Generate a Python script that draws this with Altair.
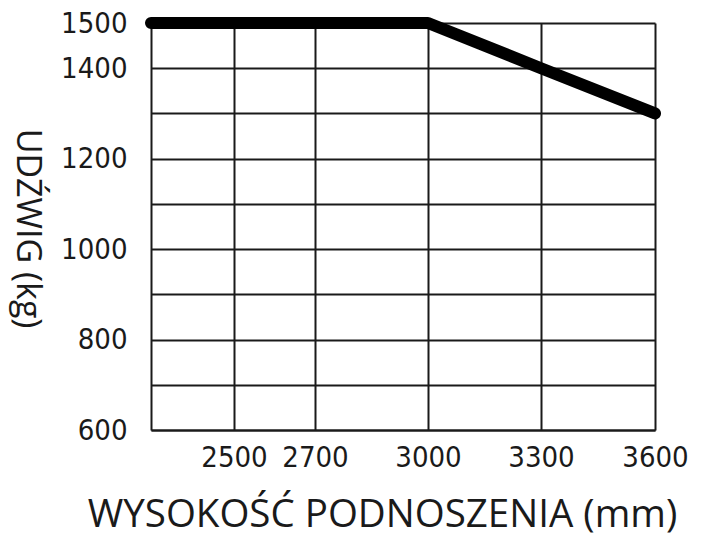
import altair as alt
import pandas as pd

# x axis: lift height (mm); the left edge of the grid is an unlabeled start value
x_start = 2300
x_ticks = [2500, 2700, 3000, 3300, 3600]
# y axis: capacity (kg)
y_labels = [600, 800, 1000, 1200, 1400, 1500]
y_grid = [600, 700, 800, 900, 1000, 1100, 1200, 1300, 1400, 1500]

# capacity curve
lift_height = [2300, 3000, 3300, 3600]
capacity = [1500, 1500, 1400, 1300]

df = pd.DataFrame({"h": lift_height, "c": capacity})

x_domain = [x_start] + x_ticks
x_range = [0, 83, 164, 277, 390, 504]

label_expr = "indexof(" + str(y_labels) + ", datum.value) >= 0 ? datum.label : ''"

tick_font = "DejaVu Sans Condensed, DejaVu Sans"

chart = alt.Chart(df).mark_line(
    color="black", strokeWidth=12, strokeCap="round", strokeJoin="round"
).encode(
    x=alt.X(
        "h:Q",
        scale=alt.Scale(domain=x_domain, range=x_range, nice=False, zero=False),
        axis=alt.Axis(
            values=x_ticks,
            format="d",
            grid=True,
            ticks=False,
            tickSize=0,
            labelFlush=False,
            labelPadding=13,
            labelFont=tick_font,
            labelFontSize=29,
            labelColor="#1a1a1a",
            title="WYSOKOŚĆ PODNOSZENIA (mm)",
            titleFont="Open Sans",
            titleFontSize=38.5,
            titleFontWeight="normal",
            titleColor="#1a1a1a",
            titleX=231,
            titleY=96,
            titleAlign="center",
            titleBaseline="alphabetic",
        ),
    ),
    y=alt.Y(
        "c:Q",
        scale=alt.Scale(domain=[600, 1500], nice=False, zero=False),
        axis=alt.Axis(
            values=y_grid,
            format="d",
            labelExpr=label_expr,
            grid=True,
            ticks=False,
            tickSize=0,
            labelFlush=False,
            labelPadding=24,
            labelFont=tick_font,
            labelFontSize=29,
            labelColor="#1a1a1a",
            labelAlign="right",
            labelBaseline="middle",
            title="UDŹWIG (kg)",
            titleFont="Open Sans",
            titleFontSize=34,
            titleFontWeight="normal",
            titleColor="#1a1a1a",
            titleAngle=90,
            titleX=-135,
            titleY=205,
            titleAlign="center",
            titleBaseline="alphabetic",
        ),
    ),
).properties(
    width=504,
    height=407,
    autosize=alt.AutoSizeParams(type="none"),
    padding={"left": 143, "top": 15, "right": 57, "bottom": 106},
).configure_axis(
    gridColor="#1a1a1a",
    gridWidth=2,
    gridOpacity=1,
    domainColor="#1a1a1a",
    domainWidth=2,
    labelOverlap=False,
).configure_view(
    strokeWidth=0
)

chart.save("out.html", embed_options={"renderer": "svg", "actions": False})
